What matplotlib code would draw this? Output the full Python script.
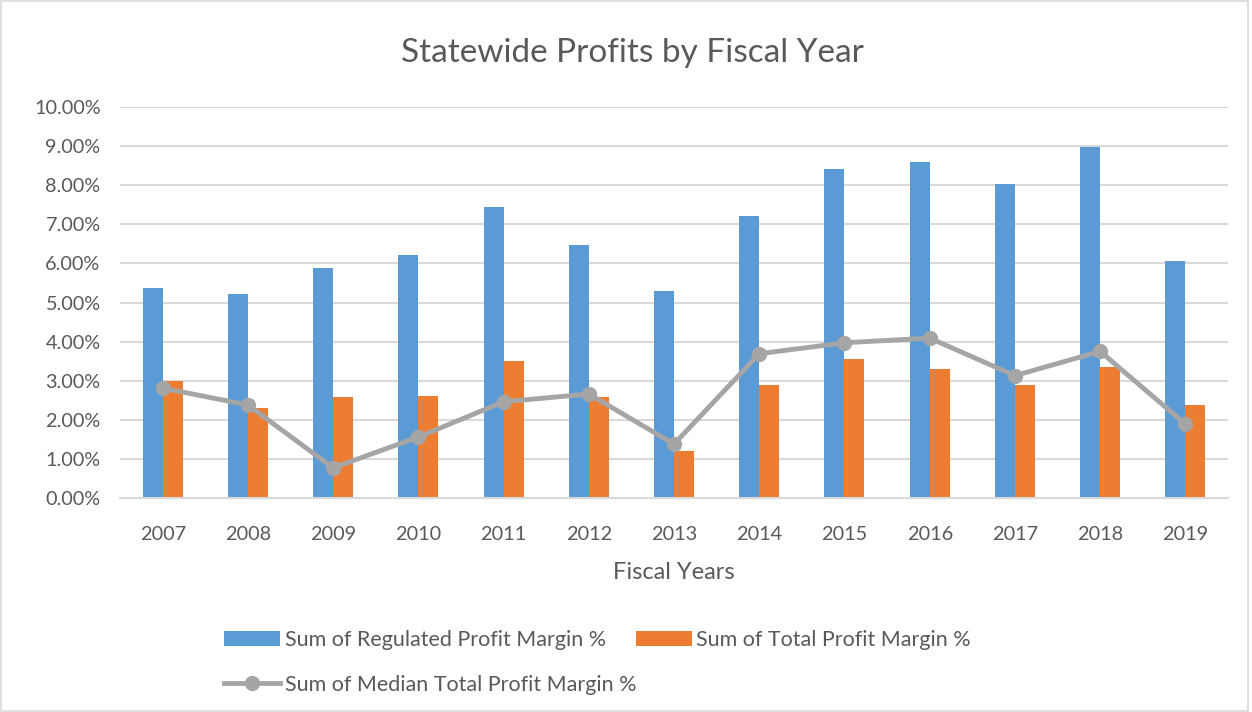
import matplotlib.pyplot as plt
import numpy as np
from matplotlib.ticker import FuncFormatter
from matplotlib.patches import Rectangle

plt.rcParams['font.family'] = ['Lato', 'DejaVu Sans']

years = ['2007', '2008', '2009', '2010', '2011', '2012', '2013',
         '2014', '2015', '2016', '2017', '2018', '2019']
regulated = [5.36, 5.23, 5.89, 6.22, 7.44, 6.48, 5.29, 7.22, 8.41, 8.59, 8.04, 8.98, 6.06]
total = [3.00, 2.30, 2.58, 2.60, 3.51, 2.58, 1.19, 2.89, 3.56, 3.29, 2.88, 3.36, 2.37]
median = [2.81, 2.38, 0.77, 1.56, 2.46, 2.66, 1.38, 3.69, 3.97, 4.09, 3.13, 3.75, 1.89]

txt = '#595959'
fig = plt.figure(figsize=(12.52, 7.12), dpi=100)
ax = fig.add_axes([120/1252, 1-498/712, 1108/1252, 391/712])

x = np.arange(len(years))
w = 0.235
b1 = ax.bar(x - w/2, regulated, w, color='#5B9BD5', label='Sum of Regulated Profit Margin %', zorder=2)
b2 = ax.bar(x + w/2, total, w, color='#ED7D31', label='Sum of Total Profit Margin %', zorder=2)
l1, = ax.plot(x, median, color='#A5A5A5', lw=3.5, marker='o', ms=10,
              label='Sum of Median Total Profit Margin %', zorder=3)

ax.set_xlim(-0.5, len(years) - 0.5)
ax.set_ylim(0, 10)
ax.set_yticks(np.arange(0, 11, 1))
ax.yaxis.set_major_formatter(FuncFormatter(lambda v, p: '%.2f%%' % v))
ax.set_xticks(x)
ax.set_xticklabels(years)
ax.grid(axis='y', color='#D9D9D9', lw=1.5, zorder=0)
for s in ['top', 'right', 'left']:
    ax.spines[s].set_visible(False)
ax.spines['bottom'].set_color('#D9D9D9')
ax.spines['bottom'].set_linewidth(1.5)
ax.tick_params(length=0, labelsize=14.3, colors=txt)
ax.tick_params(axis='x', pad=20)
ax.tick_params(axis='y', pad=14)
ax.set_xlabel('Fiscal Years', fontsize=17, color=txt, labelpad=14)

fig.text(632/1252, 1-53/712, 'Statewide Profits by Fiscal Year', fontsize=24,
         color=txt, ha='center', va='center')

leg1 = fig.legend(handles=[b1, b2], ncol=2, loc='center left',
                  bbox_to_anchor=(205/1252, 1-640/712), frameon=False,
                  fontsize=15.5, labelcolor=txt, handlelength=2.6, handleheight=0.7,
                  handletextpad=0.2, columnspacing=1.4)
leg2 = fig.legend(handles=[l1], loc='center left',
                  bbox_to_anchor=(205/1252, 1-685/712), frameon=False,
                  fontsize=15.5, labelcolor=txt, handlelength=2.6,
                  handletextpad=0.2)

fig.patches.append(Rectangle((0.001, 0.001), 0.996, 0.997, transform=fig.transFigure,
                             fill=False, edgecolor='#D9D9D9', lw=1.2))

fig.savefig('out.png', dpi=100)
